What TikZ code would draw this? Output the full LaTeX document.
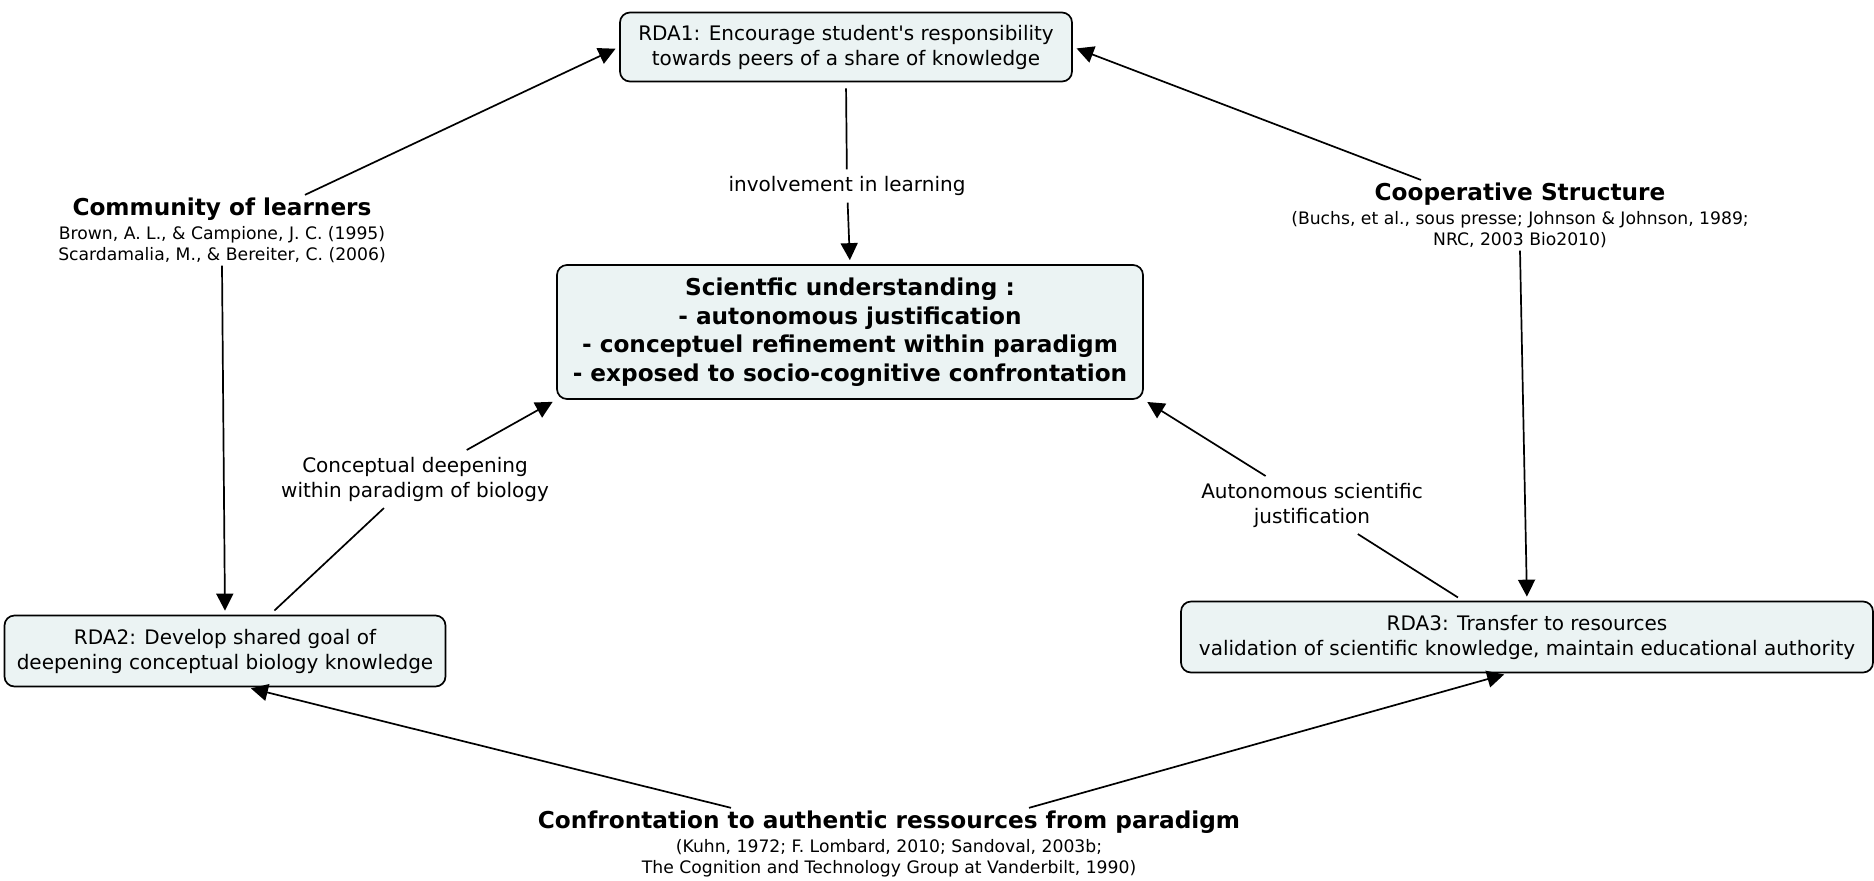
\documentclass[tikz,border=0pt]{standalone}
\usepackage{fontspec}
\setmainfont{DejaVu Sans}
\usetikzlibrary{arrows.meta, positioning, calc}
\definecolor{boxfill}{RGB}{235,243,243}

\begin{document}
\begin{tikzpicture}[x=0.5pt, y=-0.5pt, >={Triangle[length=8.5pt, width=8.5pt]},
  line width=0.85pt, node distance=0pt,
  rdabox/.style={draw, rounded corners=5pt, fill=boxfill, align=center,
    inner sep=0pt, font=\fontsize{10}{12.5}\selectfont},
  title/.style={inner sep=1pt, font=\fontsize{11.6}{13}\selectfont\bfseries},
  refs/.style={inner sep=1pt, align=center, font=\fontsize{8.6}{10.75}\selectfont},
  linklabel/.style={inner sep=3pt, align=center, font=\fontsize{10}{12.5}\selectfont},
  link/.style={->, shorten >=2pt}]
  \useasboundingbox (0,0) rectangle (1874,880);

  % boxes
  \node[rdabox, minimum width=226pt, minimum height=34.5pt] (rda1) at (846,47)
    {RDA1: Encourage student\textquotesingle s responsibility\\ towards peers of a share of knowledge};
  \node[rdabox, minimum width=293pt, minimum height=67pt,
        font=\fontsize{11.6}{14.3}\selectfont\bfseries] (sci) at (850,332)
    {Scientfic understanding :\\ - autonomous justification\\
     - conceptuel refinement within paradigm\\ - exposed to socio-cognitive confrontation};
  \node[rdabox, minimum width=220.5pt, minimum height=35.5pt] (rda2) at (225,651)
    {RDA2: Develop shared goal of\\ deepening conceptual biology knowledge};
  \node[rdabox, minimum width=346pt, minimum height=35.5pt] (rda3) at (1527,637)
    {RDA3: Transfer to resources\\ validation of scientific knowledge, maintain educational authority};

  % sources
  \node[title] (comm) at (222,209) {Community of learners};
  \node[refs, below=of comm] (commref)
    {Brown, A. L., \& Campione, J. C. (1995)\\ Scardamalia, M., \& Bereiter, C. (2006)};
  \node[title] (coop) at (1520,194) {Cooperative Structure};
  \node[refs, below=of coop] (coopref)
    {(Buchs, et al., sous presse; Johnson \& Johnson, 1989;\\ NRC, 2003 Bio2010)};
  \node[title] (conf) at (889,822) {Confrontation to authentic ressources from paradigm};
  \node[refs, below=of conf] (confref)
    {(Kuhn, 1972; F. Lombard, 2010; Sandoval, 2003b;\\
     The Cognition and Technology Group at Vanderbilt, 1990)};

  % link labels
  \node[linklabel] (inv) at (847,186) {involvement in learning};
  \node[linklabel] (deep) at (415,479) {Conceptual deepening\\ within paradigm of biology};
  \node[linklabel] (auto) at (1312,505) {Autonomous scientific\\ justification};

  % links
  \draw[link] ($(comm.north)+(83,0)$) -- (rda1.west);
  \draw[link] ($(coop.north)+(-99,0)$) -- (rda1.east);
  \draw[shorten <=3pt] (rda1.south) -- (inv);
  \draw[link] (inv) -- (sci.north);
  \draw[link] (commref.south) -- (rda2.north);
  \draw[link] (coopref.south) -- (rda3.north);
  \draw[shorten <=3pt] ($(rda2.north)+(45,0)$) -- (deep);
  \draw[link] (deep) -- (sci.south west);
  \draw[shorten <=3pt] ($(rda3.north)+(-64,0)$) -- (auto);
  \draw[link] (auto) -- (sci.south east);
  \draw[link] ($(conf.north)+(-158,0)$) -- ($(rda2.south)+(22,0)$);
  \draw[link] ($(conf.north)+(140,0)$) -- ($(rda3.south)+(-19,0)$);
\end{tikzpicture}
\end{document}
